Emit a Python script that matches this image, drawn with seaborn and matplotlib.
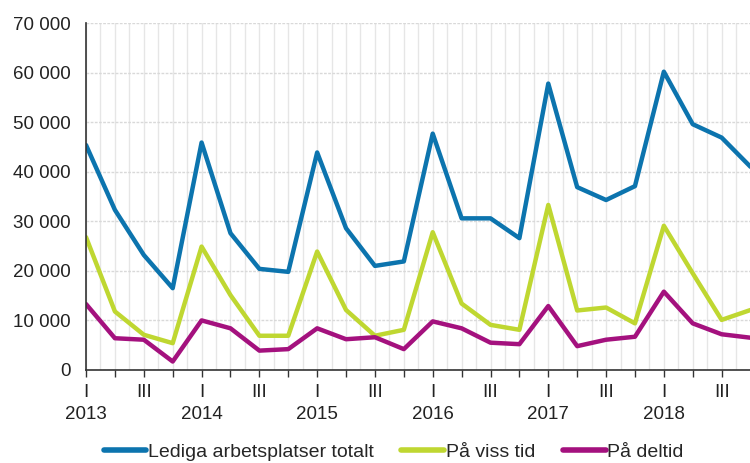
import matplotlib
matplotlib.use("Agg")
import matplotlib.pyplot as plt
from matplotlib.ticker import FuncFormatter, MultipleLocator
import seaborn as sns
import pandas as pd

# kvartal 2013 I - 2018 IV
years = ["2013", "2014", "2015", "2016", "2017", "2018"]
quarters = ["I", "II", "III", "IV"]

totalt = [45400, 32300, 23200, 16500,
          45900, 27600, 20400, 19800,
          43900, 28600, 21000, 21900,
          47700, 30600, 30600, 26600,
          57800, 36900, 34300, 37100,
          60200, 49600, 46900, 41000]
viss_tid = [26800, 11800, 7100, 5400,
            24900, 15100, 6900, 6900,
            23900, 12100, 6900, 8100,
            27800, 13400, 9100, 8100,
            33300, 12000, 12600, 9400,
            29100, 19500, 10100, 12100]
deltid = [13300, 6400, 6100, 1700,
          10000, 8400, 3900, 4200,
          8400, 6200, 6600, 4200,
          9800, 8400, 5500, 5200,
          12900, 4800, 6100, 6700,
          15800, 9400, 7200, 6500]

series = ["Lediga arbetsplatser totalt", "På viss tid", "På deltid"]
colors = ["#0c74ae", "#bfd731", "#a4117e"]

n = len(totalt)
df = pd.DataFrame({
    "t": list(range(n)) * 3,
    "value": totalt + viss_tid + deltid,
    "serie": [series[0]] * n + [series[1]] * n + [series[2]] * n,
})

sns.set_style("white")
plt.rcParams["font.family"] = ["Liberation Sans", "DejaVu Sans"]
fs = 13.5

fig = plt.figure(figsize=(7.5, 4.63), dpi=100)
ax = fig.add_axes([0.1147, 0.201, 0.886, 0.749])

sns.lineplot(data=df, x="t", y="value", hue="serie", palette=colors,
             linewidth=3.2, ax=ax, legend=True)

ax.set_xlim(0, 23)
ax.set_ylim(0, 70000)
ax.yaxis.set_major_locator(MultipleLocator(10000))
ax.yaxis.set_major_formatter(FuncFormatter(lambda v, p: f"{int(v):,}".replace(",", " ")))

# tick labels: I and III, year under I
ticklabels = []
for i in range(n):
    q = quarters[i % 4]
    if q == "I":
        ticklabels.append("I\n" + years[i // 4])
    elif q == "III":
        ticklabels.append("III")
    else:
        ticklabels.append("")
ax.set_xticks(range(n))
ax.set_xticklabels(ticklabels, linespacing=1.4, va="top")
ax.xaxis.set_minor_locator(MultipleLocator(0.5))

ax.tick_params(axis="x", which="major", length=5, width=1, color="#333333",
               direction="out", labelsize=fs, pad=5, bottom=True)
ax.tick_params(axis="x", which="minor", length=0)
ax.tick_params(axis="y", length=0, labelsize=fs, pad=11)
for lbl in ax.get_yticklabels() + ax.get_xticklabels():
    lbl.set_color("#222222")

ax.grid(axis="y", which="major", color="#d9d9d9", linewidth=1, linestyle=(0, (2, 1)))
ax.grid(axis="x", which="both", color="#e6e6e6", linewidth=1)
ax.set_axisbelow(True)

for s in ["top", "right"]:
    ax.spines[s].set_visible(False)
for s in ["left", "bottom"]:
    ax.spines[s].set_color("#333333")
    ax.spines[s].set_linewidth(1.2)

ax.set_xlabel("")
ax.set_ylabel("")

handles, labels = ax.get_legend_handles_labels()
leg = fig.legend(handles, labels, loc="center", bbox_to_anchor=(0.525, 1 - 452 / 463),
                 ncol=3, frameon=False, fontsize=14,
                 handlelength=2.2, handletextpad=0.1, columnspacing=1.4)
for line in leg.get_lines():
    line.set_linewidth(4)
ax.get_legend().remove()

fig.savefig("out.png", dpi=100)
